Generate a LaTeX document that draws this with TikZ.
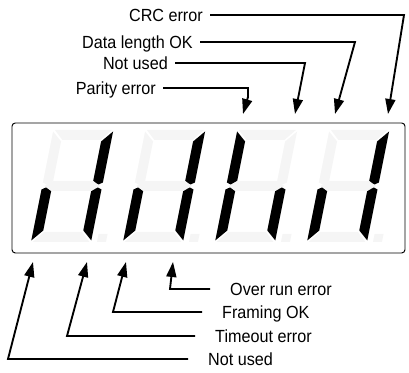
\documentclass[tikz,border=0pt]{standalone}
\usepackage{fontspec}
\setmainfont{Liberation Sans}[FakeStretch=0.92]
\usetikzlibrary{arrows.meta}
\tikzset{
  toplabel/.style={inner xsep=0.21cm, inner ysep=0pt, text height=0.375cm, text depth=0pt, font=\fontsize{15}{18}\selectfont},
  botlabel/.style={inner xsep=0.6cm, inner ysep=0pt, text height=0.375cm, text depth=0pt, font=\fontsize{15}{18}\selectfont},
  ptr/.style={line width=1.6pt, -{Triangle[length=0.45cm,width=0.3cm]}},
  segon/.style={fill=black},
  segoff/.style={fill=gray!8},
}
\begin{document}
\begin{tikzpicture}[x=0.03cm,y=0.03cm]
\useasboundingbox (0,0) rectangle (409,373);
\draw[line width=0.8pt, rounded corners=0.1cm] (12,120) rectangle (405,250);
% four slanted seven segment digits
\foreach \k/\a/\b/\c/\d/\e/\f/\g in {0/off/on/on/off/on/off/off, 1/off/on/on/off/on/off/off, 2/off/off/on/off/on/on/off, 3/off/on/on/off/on/off/off} {
  \begin{scope}[shift={(31+92*\k,131)}, xslant=0.2]
    \fill[seg\a] (1.5,112) -- (58.5,112) -- (49,102) -- (11,102) -- cycle;
    \fill[seg\b] (60,110.5) -- (50,100.5) -- (50,61) -- (55,57) -- (60,59.5) -- cycle;
    \fill[seg\c] (60,1.5) -- (50,11.5) -- (50,51) -- (55,55) -- (60,52.5) -- cycle;
    \fill[seg\d] (1.5,0) -- (58.5,0) -- (49,10) -- (11,10) -- cycle;
    \fill[seg\e] (0,1.5) -- (10,11.5) -- (10,51) -- (5,55) -- (0,52.5) -- cycle;
    \fill[seg\f] (0,110.5) -- (10,100.5) -- (10,61) -- (5,57) -- (0,59.5) -- cycle;
    \fill[seg\g] (2,56) -- (10,61) -- (50,61) -- (58,56) -- (50,51) -- (10,51) -- cycle;
    \fill[segoff] (66,0) rectangle (75,8);
  \end{scope}
}
% labels above
\node[toplabel, anchor=east] (crc) at (210,358) {CRC error};
\node[toplabel, anchor=east] (dlen) at (200,331) {Data length OK};
\node[toplabel, anchor=east] (nua) at (175,310) {Not used};
\node[toplabel, anchor=east] (par) at (163,285) {Parity error};
% labels below
\node[botlabel, anchor=west] (ovr) at (210,84) {Over run error};
\node[botlabel, anchor=west] (frm) at (202,61) {Framing OK};
\node[botlabel, anchor=west] (tmo) at (195,37) {Timeout error};
\node[botlabel, anchor=west] (nub) at (188,14) {Not used};
% bends and tips
\coordinate (crcbend) at (404,358);
\coordinate (crctip) at (388,259);
\coordinate (dlenbend) at (355,331);
\coordinate (dlentip) at (335,259);
\coordinate (nuabend) at (305,310);
\coordinate (nuatip) at (295,259);
\coordinate (parbend) at (248,285);
\coordinate (parknee) at (248,276);
\coordinate (partip) at (243,259);
\coordinate (ovrbend) at (170,84);
\coordinate (ovrtip) at (173,111);
\coordinate (frmbend) at (113,61);
\coordinate (frmtip) at (126,111);
\coordinate (tmobend) at (67,37);
\coordinate (tmotip) at (87,111);
\coordinate (nubbend) at (8,14);
\coordinate (nubtip) at (33,111);
\draw[ptr] (crc.east) -- (crcbend) -- (crctip);
\draw[ptr] (dlen.east) -- (dlenbend) -- (dlentip);
\draw[ptr] (nua.east) -- (nuabend) -- (nuatip);
\draw[ptr] (par.east) -- (parbend) -- (parknee) -- (partip);
\draw[ptr] (ovr.west) -- (ovrbend) -- (ovrtip);
\draw[ptr] (frm.west) -- (frmbend) -- (frmtip);
\draw[ptr] (tmo.west) -- (tmobend) -- (tmotip);
\draw[ptr] (nub.west) -- (nubbend) -- (nubtip);
\end{tikzpicture}
\end{document}
